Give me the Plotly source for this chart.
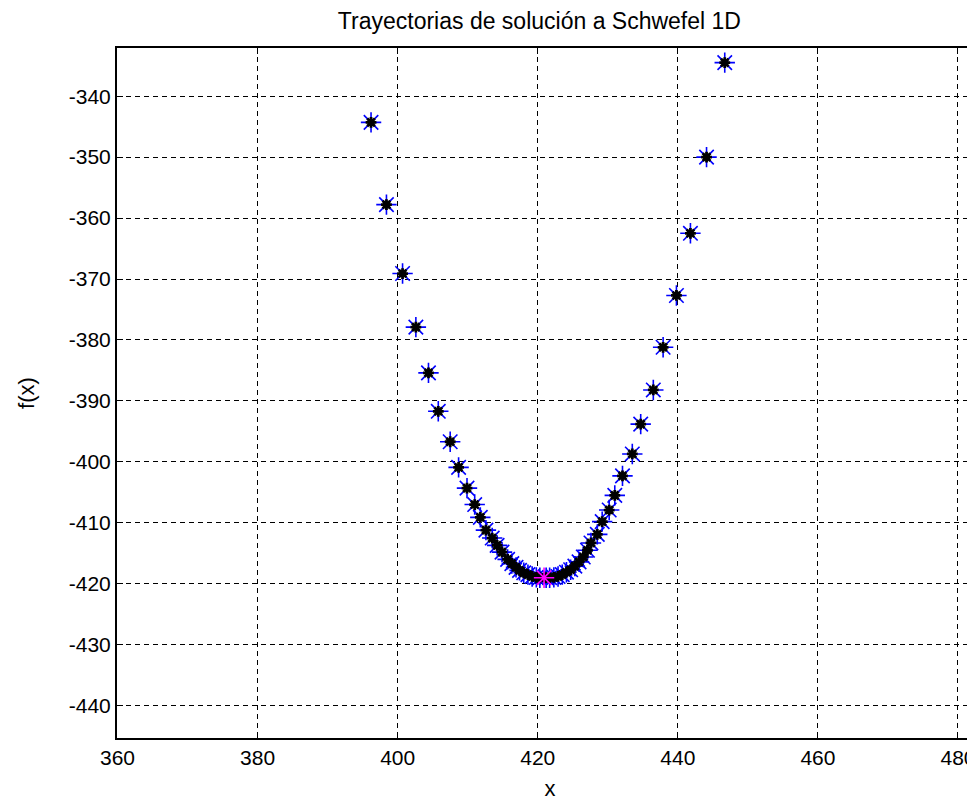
import plotly.graph_objects as go

title_text = "Trayectorias de solución a Schwefel 1D"
x_label = "x"
y_label = "f(x)"

x_ticks = [360, 380, 400, 420, 440, 460, 480]
x_tick_text = ["360", "380", "400", "420", "440", "460", "480"]
y_ticks = [-340, -350, -360, -370, -380, -390, -400, -410, -420, -430, -440]
y_tick_text = ["-340", "-350", "-360", "-370", "-380", "-390", "-400", "-410", "-420", "-430", "-440"]

left_x = [396.2, 398.4, 400.7, 402.6, 404.4, 405.8, 407.5, 408.7, 409.9, 411.0,
          411.8, 412.6, 413.5, 414.2, 414.9, 415.7, 416.3, 416.9, 417.4, 418.0,
          418.6, 419.2, 419.8, 420.3]
left_y = [-344.3, -357.8, -369.1, -377.9, -385.4, -391.7, -396.7, -400.9, -404.3, -407.0,
          -409.1, -411.2, -412.5, -413.7, -414.8, -416.0, -416.7, -417.3, -417.8, -418.2,
          -418.5, -418.8, -418.95, -419.0]

right_x = [446.7, 444.1, 441.8, 439.8, 437.9, 436.5, 434.7, 433.5, 432.1, 431.0,
           430.2, 429.2, 428.5, 427.6, 427.1, 426.5, 425.9, 425.3, 424.7, 424.1,
           423.5, 422.9, 422.3, 421.7, 421.2]
right_y = [-334.5, -350.0, -362.5, -372.7, -381.2, -388.2, -393.8, -398.7, -402.3, -405.5,
           -407.9, -409.8, -411.9, -413.3, -414.5, -415.6, -416.4, -417.1, -417.7, -418.1,
           -418.5, -418.8, -418.95, -419.0, -419.0]

best_x = [420.9]
best_y = [-419.0]

all_x = left_x + right_x
all_y = left_y + right_y

fig = go.Figure()
fig.add_trace(go.Scatter(
    x=all_x, y=all_y, mode="markers",
    marker=dict(symbol="asterisk-open", size=17, color="#0000ff",
                line=dict(color="#0000ff", width=1.6)),
    hoverinfo="skip", showlegend=False))
fig.add_trace(go.Scatter(
    x=all_x, y=all_y, mode="markers",
    marker=dict(symbol="asterisk-open", size=9, color="#000000",
                line=dict(color="#000000", width=2.8)),
    showlegend=False))
fig.add_trace(go.Scatter(
    x=best_x, y=best_y, mode="markers",
    marker=dict(symbol="asterisk-open", size=17, color="#ff00ff",
                line=dict(color="#ff00ff", width=1.6)),
    showlegend=False))

font_family = "Liberation Sans, Arial, sans-serif"

axis_common = dict(
    showline=True, linecolor="black", linewidth=2, mirror="ticks",
    ticks="inside", ticklen=6, tickcolor="black", tickwidth=1,
    showgrid=True, gridcolor="black", gridwidth=1.3, griddash="5px,4px",
    zeroline=False, automargin=False,
    tickfont=dict(family=font_family, size=21, color="black"),
)

fig.update_layout(
    width=975, height=803,
    paper_bgcolor="white", plot_bgcolor="white",
    margin=dict(l=109, r=0, t=40, b=73),
    title=dict(text=title_text, x=0.545, xanchor="center", y=0.984, yanchor="middle",
               font=dict(family=font_family, size=23, color="black")),
    xaxis=dict(range=[359.93, 483.57], tickvals=x_ticks, ticktext=x_tick_text,
               title=dict(text=x_label, font=dict(family=font_family, size=22, color="black"),
                          standoff=12),
               **axis_common),
    yaxis=dict(range=[-445.3, -332.1], tickvals=y_ticks, ticktext=y_tick_text,
               title=dict(text=y_label, font=dict(family=font_family, size=22, color="black"),
                          standoff=28),
               **axis_common),
)

fig.write_html("out.html")
